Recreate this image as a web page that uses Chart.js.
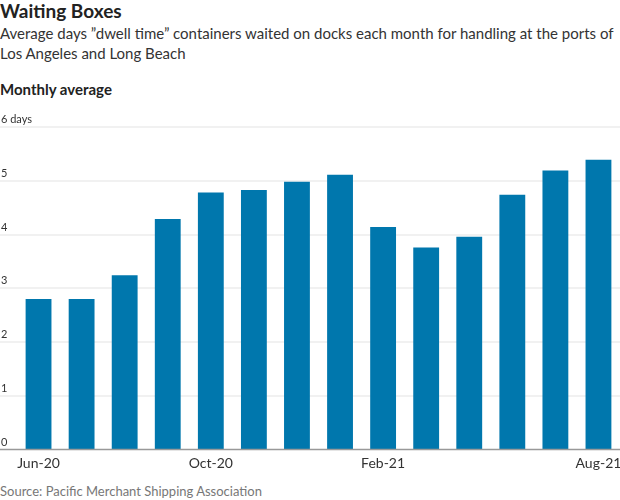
<!DOCTYPE html>
<html>
<head>
<meta charset="utf-8">
<script src="https://cdn.jsdelivr.net/npm/chart.js@4/dist/chart.umd.min.js"></script>
<style>
  html, body { margin: 0; padding: 0; background: #fff; }
  body { width: 620px; height: 500px; position: relative; overflow: hidden; font-family: Lato, "Noto Sans", sans-serif; color: #222; }
  #title { position: absolute; left: 0; top: 0px; font-size: 19px; font-weight: bold; color: #222; line-height: 22px; }
  #sub { position: absolute; left: 0; top: 23px; width: 619px; font-size: 15px; line-height: 20px; color: #333; }
  #unit { position: absolute; left: 0; top: 80px; font-size: 15px; font-weight: bold; color: #222; }
  #src { position: absolute; left: 0; top: 483px; font-size: 13px; color: #777; }
  #wrap { position: absolute; left: 0; top: 110px; width: 620px; height: 370px; }
</style>
</head>
<body>
<div id="title">Waiting Boxes</div>
<div id="sub">Average days ”dwell time” containers waited on docks each month for handling at the ports of Los Angeles and Long Beach</div>
<div id="unit">Monthly average</div>
<div id="wrap"><canvas id="c"></canvas></div>
<div id="src">Source: Pacific Merchant Shipping Association</div>
<script>
const categories = ["Jun-20","Jul-20","Aug-20","Sep-20","Oct-20","Nov-20","Dec-20","Jan-21","Feb-21","Mar-21","Apr-21","May-21","Jun-21","Aug-21"];
const shownLabels = ["Jun-20","Oct-20","Feb-21","Aug-21"];
const dwellDays = [2.80, 2.80, 3.24, 4.29, 4.78, 4.83, 4.98, 5.11, 4.14, 3.76, 3.96, 4.74, 5.19, 5.39];
const yTicks = [0, 1, 2, 3, 4, 5, 6];
const yTickLabels = ["0", "1", "2", "3", "4", "5", "6 days"];

const gridPlugin = {
  id: 'gridPlugin',
  beforeDatasetsDraw(chart) {
    const ctx = chart.ctx, y = chart.scales.y;
    ctx.save();
    yTicks.forEach((v, i) => {
      const py = Math.round(y.getPixelForValue(v));
      if (v !== 0) {
        ctx.strokeStyle = '#ececec';
        ctx.lineWidth = 1.5;
        ctx.beginPath(); ctx.moveTo(0, py); ctx.lineTo(chart.width, py); ctx.stroke();
      }
      ctx.fillStyle = '#333';
      ctx.font = '11px Lato, "Noto Sans", sans-serif';
      ctx.textBaseline = 'alphabetic';
      ctx.textAlign = 'left';
      ctx.fillText(yTickLabels[i], 1, py - 4);
    });
    ctx.restore();
  },
  afterDatasetsDraw(chart) {
    const ctx = chart.ctx, y = chart.scales.y;
    const py = y.getPixelForValue(0);
    ctx.save();
    ctx.strokeStyle = '#999';
    ctx.lineWidth = 1.5;
    ctx.beginPath(); ctx.moveTo(0, py); ctx.lineTo(chart.width, py); ctx.stroke();
    ctx.restore();
  }
};

new Chart(document.getElementById('c'), {
  type: 'bar',
  data: {
    labels: categories,
    datasets: [{
      data: dwellDays,
      backgroundColor: '#0077ad',
      categoryPercentage: 1,
      barPercentage: 0.6
    }]
  },
  options: {
    responsive: true,
    maintainAspectRatio: false,
    animation: false,
    layout: { padding: { top: 17, left: 17, right: 0, bottom: 0 } },
    plugins: { legend: { display: false }, tooltip: { enabled: false } },
    scales: {
      x: {
        grid: { display: false, drawTicks: false },
        border: { display: false },
        ticks: {
          autoSkip: false,
          maxRotation: 0,
          padding: 6,
          color: '#333',
          font: { family: 'Lato, "Noto Sans", sans-serif', size: 14 },
          callback: function(v, i) { const l = categories[i]; return shownLabels.includes(l) ? l : ''; }
        },
        afterFit(scale) { scale.height = 30.5; scale.paddingLeft = 0; scale.paddingRight = 0; }
      },
      y: {
        display: false,
        min: 0, max: 6
      }
    }
  },
  plugins: [gridPlugin]
});
</script>
</body>
</html>
